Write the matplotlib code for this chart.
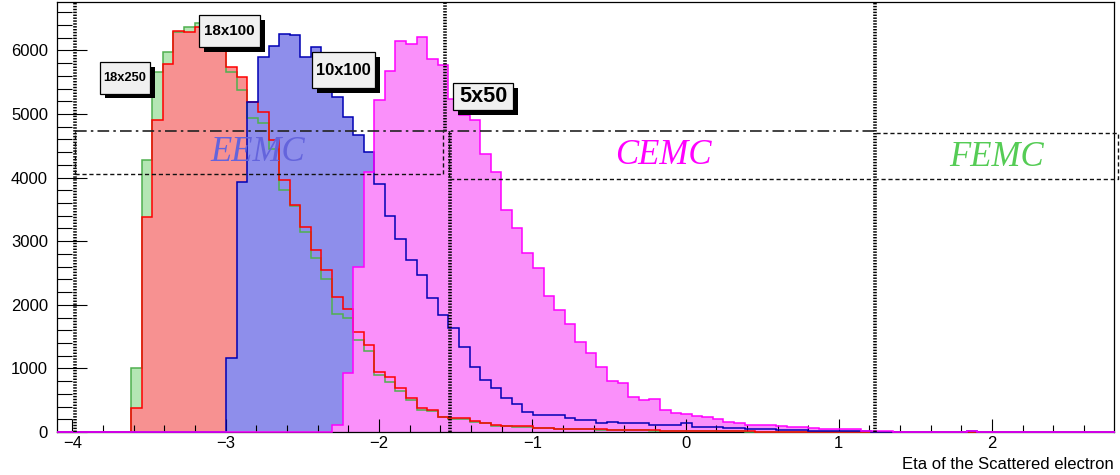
import numpy as np
import matplotlib
matplotlib.use("Agg")
import matplotlib.pyplot as plt
import matplotlib.patheffects as pe
from matplotlib.patches import Rectangle
from matplotlib.ticker import MultipleLocator

# binning of the eta histograms (100 bins)
n_bins = 100
eta_lo, eta_hi = -4.1, 2.8

# counts per bin, starting at the first filled bin
green_start = 7
green_18x250 = [1005, 4270, 5657, 5970, 6290, 6363, 6426, 6300, 6050, 5657,
                5380, 4930, 4850, 4450, 3800, 3560, 3150, 2730, 2400, 1850,
                1800, 1450, 1280, 900, 780, 640, 500, 350, 330, 230,
                210, 200, 160, 135, 100, 90, 80, 80, 65, 60,
                50, 50, 48, 40, 36, 34, 30, 28, 25, 22,
                20, 18, 16, 14, 12, 10, 9, 8, 7, 6,
                5, 4, 3, 3, 2, 2, 1, 1]

red_start = 7
red_18x100 = [370, 3380, 4900, 5790, 6310, 6285, 6360, 6250, 6100, 5735,
              5578, 5186, 5029, 4584, 3956, 3564, 3223, 2857, 2543, 2124,
              1930, 1575, 1366, 947, 868, 686, 529, 372, 350, 240,
              220, 220, 170, 145, 110, 100, 90, 88, 70, 68,
              55, 55, 52, 45, 40, 38, 35, 30, 28, 25,
              22, 20, 18, 15, 14, 12, 10, 9, 8, 7,
              6, 5, 4, 3, 3, 2, 2, 1]

blue_start = 16
blue_10x100 = [1160, 3930, 5186, 5892, 6076, 6260, 6243, 5892, 6049, 5750,
               5265, 4950, 4663, 4400, 3900, 3400, 3040, 2700, 2465, 2100,
               1840, 1630, 1340, 1025, 816, 686, 529, 440, 320, 267,
               267, 267, 220, 196, 196, 141, 165, 135, 135, 135,
               110, 110, 110, 140, 80, 80, 80, 60, 60, 55,
               40, 40, 35, 30, 25, 20, 18, 15, 12, 10,
               8, 6, 5, 4, 3, 2, 2, 1, 0, 0,
               15]

magenta_start = 26
magenta_5x50 = [110, 921, 2595, 4087, 5212, 5683, 6154, 6102, 6206, 5867,
                5762, 5239, 4977, 4898, 4375, 4087, 3496, 3213, 2815, 2580,
                2140, 1915, 1696, 1418, 1235, 1025, 806, 764, 555, 502,
                518, 345, 303, 283, 256, 240, 199, 162, 136, 110,
                110, 110, 94, 84, 84, 58, 42, 42, 42, 42,
                20, 15, 10, 6, 4, 2, 1, 0, 0, 0,
                15]

# detector regions
eemc_label, cemc_label, femc_label = "EEMC", "CEMC", "FEMC"
beam_labels = ["18x250", "18x100", "10x100", "5x50"]


def fill_bins(start, counts):
    h = np.zeros(n_bins)
    h[start:start + len(counts)] = counts
    return h


edges = np.linspace(eta_lo, eta_hi, n_bins + 1)
h_green = fill_bins(green_start, green_18x250)
h_red = fill_bins(red_start, red_18x100)
h_blue = fill_bins(blue_start, blue_10x100)
h_magenta = fill_bins(magenta_start, magenta_5x50)

fig = plt.figure(figsize=(11.2, 4.75), dpi=100)
ax = fig.add_axes([57 / 1120, 1 - 432 / 475, 1057 / 1120, 430 / 475])
ax.set_xlim(-4.1, 2.795)
ax.set_ylim(0, 6760)

hists = [(h_green, "#b4e6b4", "#4fb04f"),
         (h_red, "#f79191", "#ff0000"),
         (h_blue, "#8e8eeb", "#0000b4"),
         (h_magenta, "#fa90fa", "#ff00ff")]
for h, fc, lc in hists:
    ax.stairs(h, edges, fill=True, color=fc, lw=0, zorder=1)
for h, fc, lc in hists:
    ax.stairs(h, edges, color=lc, lw=1.1, zorder=3, clip_on=False)

# region lines
x_left, x_mid_up, x_mid_lo, x_right = -3.98, -1.57, -1.535, 1.235
y_top_dd, y_eemc_bot, y_cemc_bot, y_femc_top = 4725, 4050, 3970, 4705
ymax = 6760
dots = dict(color="black", lw=2.6, ls=(0, (0.4, 0.4)), zorder=4)
ax.plot([x_left, x_left], [0, ymax], **dots)
ax.plot([x_mid_up, x_mid_up], [y_top_dd, ymax], **dots)
ax.plot([x_mid_lo, x_mid_lo], [0, y_top_dd], **dots)
ax.plot([x_right, x_right], [0, ymax], **dots)

dash = dict(color="#111111", lw=1.0, ls=(0, (3, 2)), zorder=4)
ax.plot([x_left, x_right], [y_top_dd, y_top_dd], color="#222222", lw=1.2,
        ls=(0, (7, 2.5, 1.5, 2.5)), zorder=4)
ax.plot([x_left, x_mid_up - 0.01, x_mid_up - 0.01], [y_eemc_bot, y_eemc_bot, y_top_dd], **dash)
ax.plot([x_left, x_left], [y_eemc_bot, y_top_dd], **dash)
ax.plot([x_mid_lo - 0.01, x_mid_lo - 0.01, x_right], [y_top_dd, y_cemc_bot, y_cemc_bot], **dash)
ax.plot([x_right + 0.01, 2.82, 2.82, x_right + 0.01],
        [y_femc_top, y_femc_top, y_cemc_bot, y_cemc_bot], clip_on=False, **dash)

serif = dict(family="Liberation Serif", style="italic", fontsize=25,
             ha="center", va="center", zorder=5)
ax.text(-2.79, 4400, eemc_label, color="#6464dc", **serif)
ax.text(-0.147, 4350, cemc_label, color="#ff00ff", **serif)
ax.text(2.03, 4320, femc_label, color="#55cc55", **serif)

# beam energy boxes: (x0, x1, y0, y1, fontsize)
boxes = [(-3.820, -3.494, 5320, 5817, 9.3),
         (-3.172, -2.776, 6052, 6551, 10.9),
         (-2.437, -2.026, 5403, 5969, 11.9),
         (-1.517, -1.126, 5057, 5481, 15.6)]
for label, (x0, x1, y0, y1, fs) in zip(beam_labels, boxes):
    r = Rectangle((x0, y0), x1 - x0, y1 - y0, facecolor="#f0f0f0",
                  edgecolor="black", lw=0.9, zorder=6)
    r.set_path_effects([pe.SimplePatchShadow(offset=(3.5, -3.5), shadow_rgbFace="black", alpha=1.0),
                        pe.Normal()])
    ax.add_patch(r)
    ax.text((x0 + x1) / 2, (y0 + y1) / 2, label, ha="center", va="center",
            family="Liberation Sans", weight="bold", fontsize=fs, zorder=7)

ax.xaxis.set_major_locator(MultipleLocator(1))
ax.xaxis.set_minor_locator(MultipleLocator(0.2))
ax.yaxis.set_major_locator(MultipleLocator(1000))
ax.yaxis.set_minor_locator(MultipleLocator(200))
ax.set_axisbelow(False)
ax.tick_params(which="both", direction="in", top=False, right=False, width=0.8)
ax.tick_params(axis="y", which="major", length=21.6, pad=6.5)
ax.tick_params(axis="y", which="minor", length=10.8)
ax.tick_params(axis="x", which="major", length=9.4, pad=3)
ax.tick_params(axis="x", which="minor", length=4.7)
for lab in ax.get_xticklabels() + ax.get_yticklabels():
    lab.set_family("Liberation Sans")
    lab.set_fontsize(12)
for s in ax.spines.values():
    s.set_linewidth(0.9)

ax.set_xlabel("Eta of the Scattered electron", loc="right", fontsize=12,
              family="Liberation Sans", labelpad=4)

fig.savefig("out.png", dpi=100)
